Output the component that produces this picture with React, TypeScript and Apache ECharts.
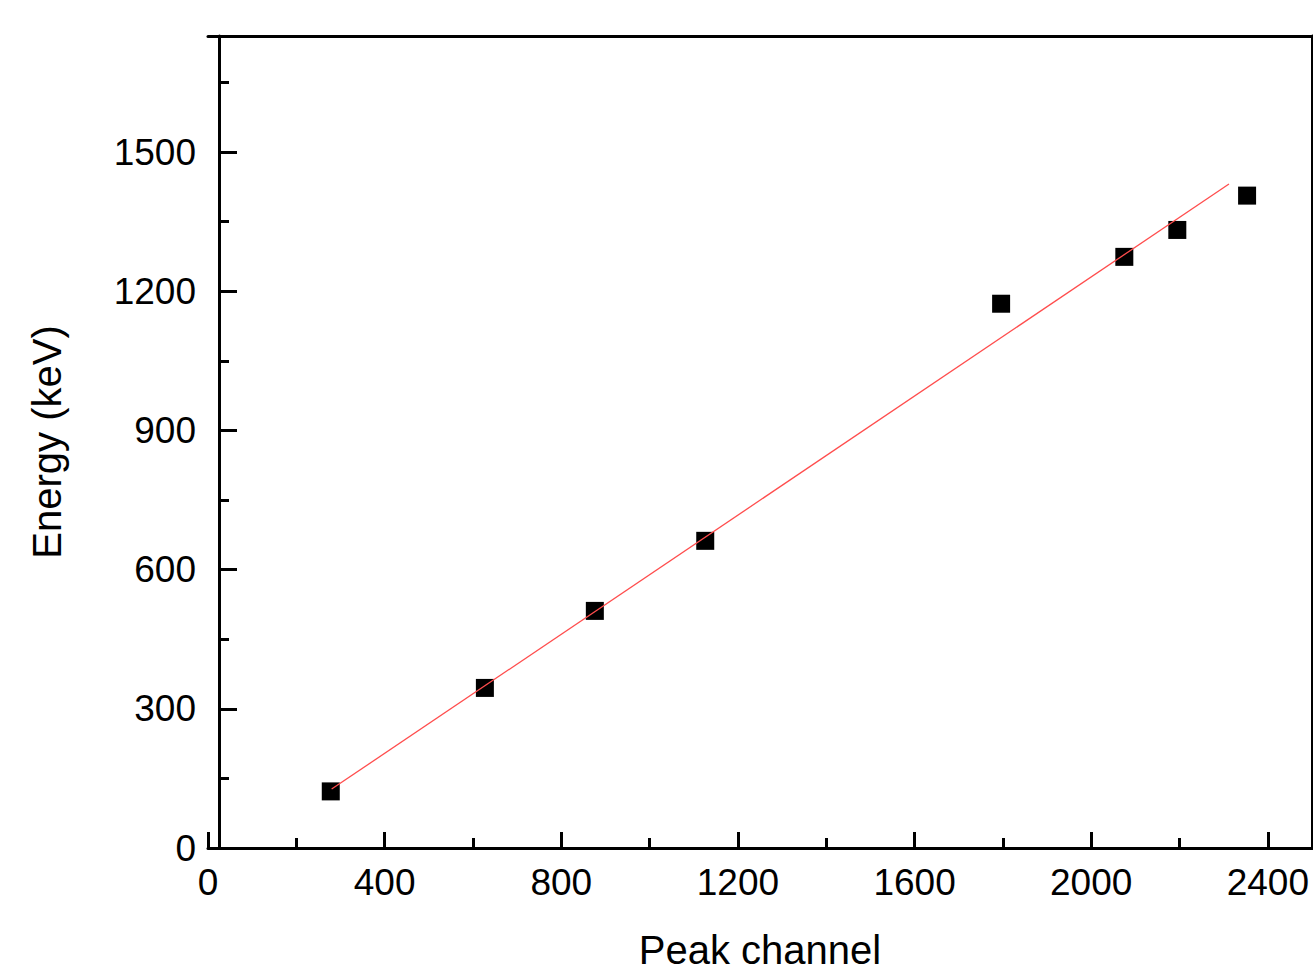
import React, { useEffect, useRef } from "react";
import * as echarts from "echarts";

const peakChannel = [278, 627, 876, 1126, 1796, 2075, 2195, 2353];
const energyKeV = [122, 345, 511, 662, 1173, 1274, 1332, 1406];
const fitX = [280, 2312];
const fitY = [127, 1431];

const X_MIN = 0;
const X_MAX = 2500;
const X_MAJOR = 400;
const X_MINOR = 200;
const Y_MIN = 0;
const Y_MAX = 1750;
const Y_MAJOR = 300;
const Y_MINOR = 150;

const FONT = "Liberation Sans, Arial, sans-serif";

export default function App() {
  const ref = useRef<HTMLDivElement>(null);
  useEffect(() => {
    document.body.style.margin = "0";
    if (!ref.current) return;
    const chart = echarts.init(ref.current, undefined, { renderer: "svg" });
    const black = "#000";
    const lineW = 3;
    const option: any = {
      animation: false,
      backgroundColor: "#fff",
      tooltip: { show: false },
      grid: {
        left: 208,
        right: 1,
        top: 36,
        bottom: 128,
        containLabel: false,
        outerBoundsMode: "none",
      },
      xAxis: [
        {
          type: "value",
          position: "bottom",
          min: X_MIN,
          max: X_MAX,
          interval: X_MAJOR,
          name: "Peak channel",
          nameLocation: "middle",
          nameGap: 82,
          nameTextStyle: { fontSize: 40, color: black, fontFamily: FONT },
          axisLine: { show: true, onZero: false, lineStyle: { color: black, width: lineW } },
          axisTick: { show: true, inside: true, length: 16, lineStyle: { color: black, width: lineW } },
          axisLabel: {
            show: true,
            fontSize: 37,
            color: black,
            fontFamily: FONT,
            margin: 16,
            formatter: (v: number) => (v % X_MAJOR === 0 ? String(v) : ""),
          },
          splitLine: { show: false },
        },
        {
          type: "value",
          position: "bottom",
          min: X_MIN,
          max: X_MAX,
          interval: X_MINOR,
          axisLine: { show: false, onZero: false },
          axisTick: { show: true, inside: true, length: 10, lineStyle: { color: black, width: lineW } },
          axisLabel: { show: false },
          splitLine: { show: false },
        },
        {
          type: "value",
          position: "top",
          min: X_MIN,
          max: X_MAX,
          axisLine: { show: true, onZero: false, lineStyle: { color: black, width: lineW } },
          axisTick: { show: false },
          axisLabel: { show: false },
          splitLine: { show: false },
        },
      ],
      yAxis: [
        {
          type: "value",
          position: "left",
          offset: -11,
          min: Y_MIN,
          max: Y_MAX,
          interval: Y_MAJOR,
          name: "Energy (keV)",
          nameLocation: "middle",
          nameGap: 152,
          nameTextStyle: { fontSize: 40, color: black, fontFamily: FONT },
          axisLine: { show: true, onZero: false, lineStyle: { color: black, width: lineW } },
          axisTick: { show: true, inside: true, length: 18, lineStyle: { color: black, width: lineW } },
          axisLabel: {
            show: true,
            fontSize: 37,
            color: black,
            fontFamily: FONT,
            margin: 23,
            formatter: (v: number) => (v % Y_MAJOR === 0 ? String(v) : ""),
          },
          splitLine: { show: false },
        },
        {
          type: "value",
          position: "left",
          offset: -11,
          min: Y_MIN,
          max: Y_MAX,
          interval: Y_MINOR,
          axisLine: { show: false, onZero: false },
          axisTick: { show: true, inside: true, length: 10, lineStyle: { color: black, width: lineW } },
          axisLabel: { show: false },
          splitLine: { show: false },
        },
        {
          type: "value",
          position: "right",
          min: Y_MIN,
          max: Y_MAX,
          axisLine: { show: true, onZero: false, lineStyle: { color: black, width: lineW } },
          axisTick: { show: false },
          axisLabel: { show: false },
          splitLine: { show: false },
        },
      ],
      series: [
        {
          type: "scatter",
          xAxisIndex: 0,
          yAxisIndex: 0,
          symbol: "rect",
          symbolSize: 18,
          itemStyle: { color: black, opacity: 1 },
          data: peakChannel.map((x, i) => [x, energyKeV[i]]),
          z: 2,
        },
        {
          type: "line",
          xAxisIndex: 0,
          yAxisIndex: 0,
          showSymbol: false,
          symbol: "none",
          lineStyle: { color: "#ff4d4d", width: 1.3 },
          data: fitX.map((x, i) => [x, fitY[i]]),
          z: 3,
        },
      ],
    };
    chart.setOption(option);
    return () => chart.dispose();
  }, []);
  return (
    <div style={{ position: "fixed", left: 0, top: 0, width: 1313, height: 976, background: "#fff" }}>
      <div ref={ref} style={{ width: 1313, height: 976 }} />
    </div>
  );
}
